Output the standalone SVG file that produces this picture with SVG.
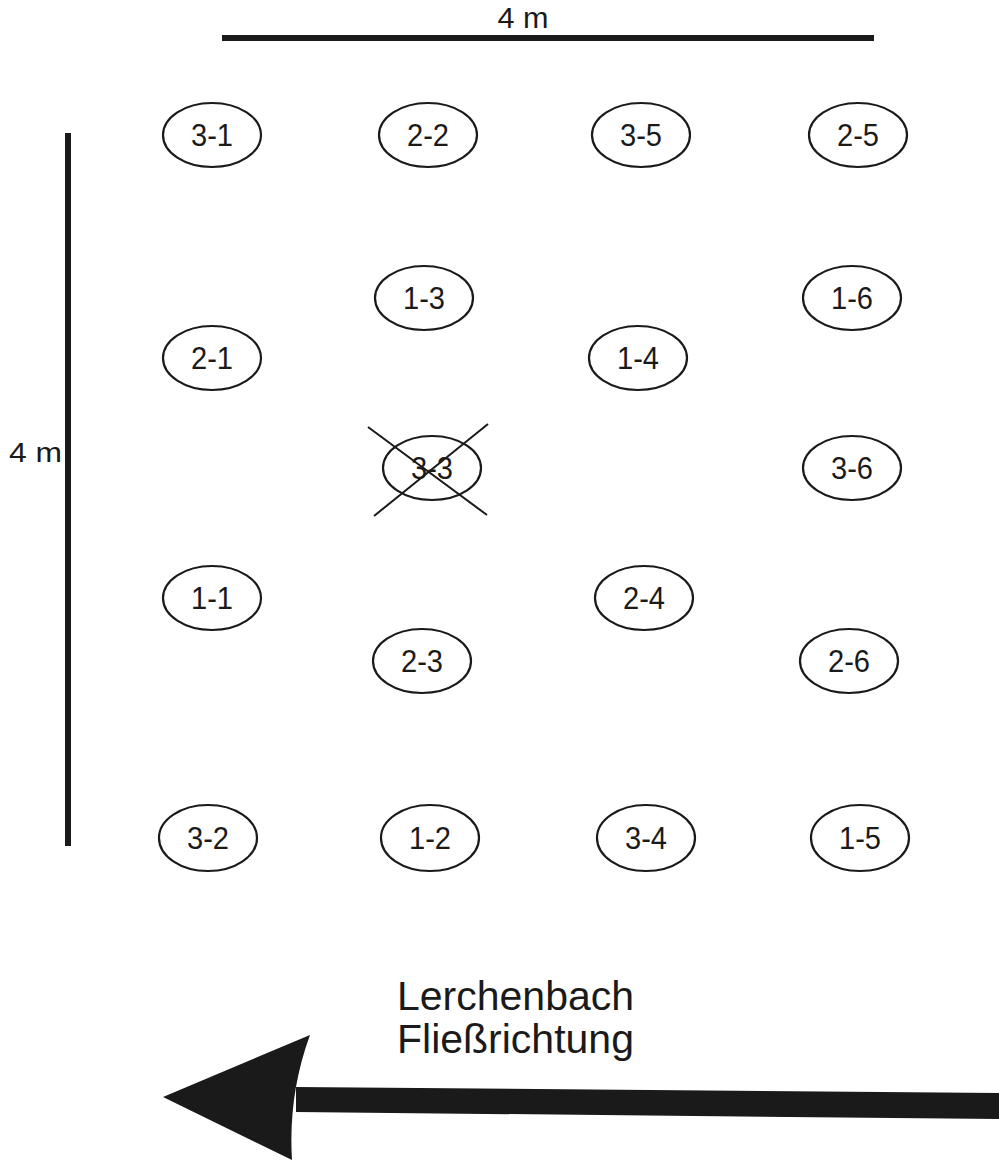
<svg xmlns="http://www.w3.org/2000/svg" width="999" height="1166" viewBox="0 0 999 1166">
<style>
.e{fill:#fff;stroke:#1a1a1a;stroke-width:2.2}
.t{font-family:"Liberation Sans",Arial,sans-serif;font-size:31px;fill:#1a1a1a;text-anchor:middle}
.bar{stroke:#1a1a1a;stroke-width:6;fill:none}
.lbl{font-family:"Liberation Sans",Arial,sans-serif;fill:#1a1a1a}
</style>
<rect width="999" height="1166" fill="#fff"/>
<g id="scale-top">
<line class="bar" x1="222" y1="38" x2="874" y2="38"/>
<text class="t" x="523" y="28" textLength="51" lengthAdjust="spacingAndGlyphs" style="font-size:29px">4 m</text>
</g>
<g id="scale-left">
<line class="bar" x1="68" y1="133" x2="68" y2="846"/>
<text class="lbl" x="9" y="462" textLength="53" lengthAdjust="spacingAndGlyphs" style="font-size:27px">4 m</text>
</g>
<g id="n31"><ellipse class="e" cx="212" cy="135" rx="49" ry="32"/><text class="t" x="212" y="146" textLength="42" lengthAdjust="spacingAndGlyphs">3-1</text></g>
<g id="n22"><ellipse class="e" cx="428" cy="135" rx="49" ry="32"/><text class="t" x="428" y="146" textLength="42" lengthAdjust="spacingAndGlyphs">2-2</text></g>
<g id="n35"><ellipse class="e" cx="641" cy="135" rx="49" ry="32"/><text class="t" x="641" y="146" textLength="42" lengthAdjust="spacingAndGlyphs">3-5</text></g>
<g id="n25"><ellipse class="e" cx="858" cy="135" rx="49" ry="32"/><text class="t" x="858" y="146" textLength="42" lengthAdjust="spacingAndGlyphs">2-5</text></g>
<g id="n13"><ellipse class="e" cx="424" cy="298" rx="49" ry="32"/><text class="t" x="424" y="309" textLength="42" lengthAdjust="spacingAndGlyphs">1-3</text></g>
<g id="n16"><ellipse class="e" cx="852" cy="298" rx="49" ry="32"/><text class="t" x="852" y="309" textLength="42" lengthAdjust="spacingAndGlyphs">1-6</text></g>
<g id="n21"><ellipse class="e" cx="212" cy="358" rx="49" ry="32"/><text class="t" x="212" y="369" textLength="42" lengthAdjust="spacingAndGlyphs">2-1</text></g>
<g id="n14"><ellipse class="e" cx="638" cy="358" rx="49" ry="32"/><text class="t" x="638" y="369" textLength="42" lengthAdjust="spacingAndGlyphs">1-4</text></g>
<g id="n33"><ellipse class="e" cx="432" cy="468" rx="49" ry="32"/><text class="t" x="432" y="479" textLength="42" lengthAdjust="spacingAndGlyphs">3-3</text>
<line x1="368" y1="427" x2="487" y2="515" stroke="#1a1a1a" stroke-width="2"/>
<line x1="488" y1="424" x2="374" y2="516" stroke="#1a1a1a" stroke-width="2"/></g>
<g id="n36"><ellipse class="e" cx="852" cy="468" rx="49" ry="32"/><text class="t" x="852" y="479" textLength="42" lengthAdjust="spacingAndGlyphs">3-6</text></g>
<g id="n11"><ellipse class="e" cx="212" cy="598" rx="49" ry="32"/><text class="t" x="212" y="609" textLength="42" lengthAdjust="spacingAndGlyphs">1-1</text></g>
<g id="n24"><ellipse class="e" cx="644" cy="598" rx="49" ry="32"/><text class="t" x="644" y="609" textLength="42" lengthAdjust="spacingAndGlyphs">2-4</text></g>
<g id="n23"><ellipse class="e" cx="422" cy="661" rx="49" ry="32"/><text class="t" x="422" y="672" textLength="42" lengthAdjust="spacingAndGlyphs">2-3</text></g>
<g id="n26"><ellipse class="e" cx="849" cy="661" rx="49" ry="32"/><text class="t" x="849" y="672" textLength="42" lengthAdjust="spacingAndGlyphs">2-6</text></g>
<g id="n32"><ellipse class="e" cx="208" cy="838" rx="49" ry="33"/><text class="t" x="208" y="849" textLength="42" lengthAdjust="spacingAndGlyphs">3-2</text></g>
<g id="n12"><ellipse class="e" cx="430" cy="838" rx="49" ry="33"/><text class="t" x="430" y="849" textLength="42" lengthAdjust="spacingAndGlyphs">1-2</text></g>
<g id="n34"><ellipse class="e" cx="646" cy="838" rx="49" ry="33"/><text class="t" x="646" y="849" textLength="42" lengthAdjust="spacingAndGlyphs">3-4</text></g>
<g id="n15"><ellipse class="e" cx="860" cy="838" rx="49" ry="33"/><text class="t" x="860" y="849" textLength="42" lengthAdjust="spacingAndGlyphs">1-5</text></g>
<g id="legend">
<text class="lbl" x="397" y="1010" style="font-size:41px">Lerchenbach</text>
<text class="lbl" x="397" y="1053" style="font-size:41px">Fließrichtung</text>
</g>
<g id="connectors">
<path d="M296,1087 L999,1093 L999,1119 L296,1112 Z" fill="#1a1a1a"/>
<path d="M163,1097 L310,1035 Q288,1095 292,1160 Z" fill="#1a1a1a"/>
</g>
</svg>
